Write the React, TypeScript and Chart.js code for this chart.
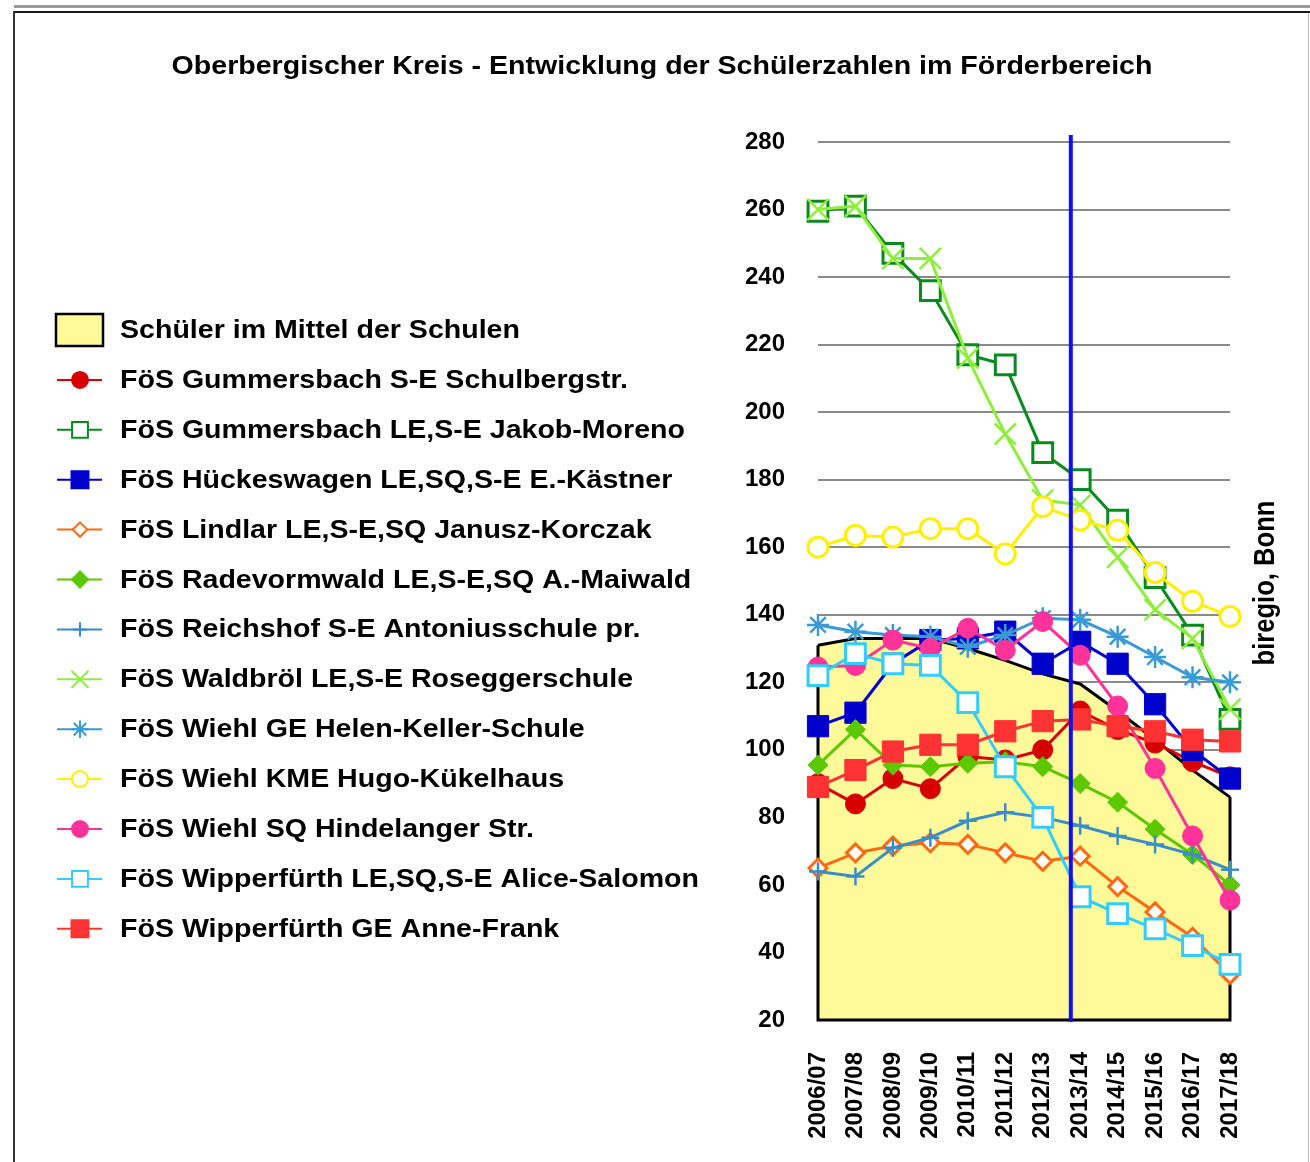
import React, { useEffect, useRef } from 'react';
import { Chart, registerables } from 'chart.js';

Chart.register(...registerables);

const titleText = 'Oberbergischer Kreis - Entwicklung der Schülerzahlen im Förderbereich';
const sourceText = 'biregio, Bonn';

const categories = ['2006/07', '2007/08', '2008/09', '2009/10', '2010/11', '2011/12', '2012/13', '2013/14', '2014/15', '2015/16', '2016/17', '2017/18'];

const yTicks = { min: 20, max: 280, step: 20 };
const markerIndex = 6.75; // blue vertical marker between 2012/13 and 2013/14

const meanSchools = [131, 133, 133, 133, 130, 126.5, 122.5, 119.5, 111.5, 103, 94, 86];
const gummersbachSE = [90, 84, 91.5, 88.5, 98, 97, 100, 111.5, 106, 102, 96.5, 92];
const jakobMoreno = [259.5, 261, 247, 236, 217, 214, 188, 180, 168, 151, 134, 109];
const hueckeswagen = [107, 111, 125.5, 132.5, 133, 135, 125.5, 132, 125.5, 113.5, 100, 91.5];
const lindlar = [65, 69.5, 71.5, 72.5, 72, 69.5, 67, 68.5, 59.5, 52, 44.5, 33.5];
const radevormwald = [95.5, 106, 95.5, 95, 96, 96.5, 95, 90, 84.5, 76.5, 69, 60];
const reichshof = [64, 62.5, 71, 74, 79, 81.5, 80, 77.5, 74.5, 72, 69, 64.5];
const waldbroel = [260, 261, 245.5, 245.5, 216, 193.5, 174, 172.5, 157, 141.5, 133, 112];
const helenKeller = [137, 135, 134, 133.5, 130.5, 134, 139, 138.5, 133.5, 127.5, 121.5, 120];
const hugoKuekelhaus = [160, 163.5, 163, 165.5, 165.5, 158, 172, 168, 165, 152.5, 144, 139.5];
const hindelanger = [124.5, 125, 132.5, 130, 136, 129.5, 138, 128, 113, 94.5, 74.5, 55.5];
const aliceSalomon = [122, 128.5, 125.5, 125, 114, 95, 80, 56.5, 51.5, 47, 42, 36.5];
const anneFrank = [89, 94, 99.5, 101.5, 101.5, 105.5, 108.5, 109, 107, 105.5, 103, 102.5];

const areaLabel = 'Schüler im Mittel der Schulen';

type Series = {
  label: string;
  data: number[];
  color: string;
  style: string;
  radius: number;
  open: boolean;
};

const series: Series[] = [
  { label: 'FöS Gummersbach S-E Schulbergstr.', data: gummersbachSE, color: '#d60000', style: 'circle', radius: 10, open: false },
  { label: 'FöS Gummersbach LE,S-E Jakob-Moreno', data: jakobMoreno, color: '#0a8a1e', style: 'rect', radius: 14, open: true },
  { label: 'FöS Hückeswagen LE,SQ,S-E E.-Kästner', data: hueckeswagen, color: '#0000cc', style: 'rect', radius: 15, open: false },
  { label: 'FöS Lindlar LE,S-E,SQ Janusz-Korczak', data: lindlar, color: '#ff6a10', style: 'rectRot', radius: 9, open: true },
  { label: 'FöS Radevormwald LE,S-E,SQ A.-Maiwald', data: radevormwald, color: '#5cc800', style: 'rectRot', radius: 10, open: false },
  { label: 'FöS Reichshof S-E Antoniusschule pr.', data: reichshof, color: '#3a8ec8', style: 'cross', radius: 9, open: false },
  { label: 'FöS Waldbröl LE,S-E Roseggerschule', data: waldbroel, color: '#8eee3c', style: 'crossRot', radius: 15, open: false },
  { label: 'FöS Wiehl GE Helen-Keller-Schule', data: helenKeller, color: '#3a9ad6', style: 'star', radius: 11, open: false },
  { label: 'FöS Wiehl KME Hugo-Kükelhaus', data: hugoKuekelhaus, color: '#fff000', style: 'circle', radius: 10, open: true },
  { label: 'FöS Wiehl SQ Hindelanger Str.', data: hindelanger, color: '#ff3399', style: 'circle', radius: 10, open: false },
  { label: 'FöS Wipperfürth LE,SQ,S-E Alice-Salomon', data: aliceSalomon, color: '#33ccff', style: 'rect', radius: 14, open: true },
  { label: 'FöS Wipperfürth GE Anne-Frank', data: anneFrank, color: '#ff3333', style: 'rect', radius: 15, open: false },
];

const FONT_FAMILY = '"Liberation Sans", Arial, Helvetica, sans-serif';
const STRETCH = 1.12;

function drawMarker(ctx: CanvasRenderingContext2D, style: string, x: number, y: number, r: number, fill: string, stroke: string, lw: number) {
  ctx.save();
  ctx.lineWidth = lw;
  ctx.fillStyle = fill;
  ctx.strokeStyle = stroke;
  ctx.beginPath();
  if (style === 'circle') {
    ctx.arc(x, y, r, 0, Math.PI * 2);
    ctx.closePath();
    ctx.fill();
    ctx.stroke();
  } else if (style === 'rect') {
    const s = r * Math.SQRT1_2;
    ctx.rect(x - s, y - s, 2 * s, 2 * s);
    ctx.fill();
    ctx.stroke();
  } else if (style === 'rectRot') {
    ctx.moveTo(x, y - r);
    ctx.lineTo(x + r, y);
    ctx.lineTo(x, y + r);
    ctx.lineTo(x - r, y);
    ctx.closePath();
    ctx.fill();
    ctx.stroke();
  } else {
    const d = r * Math.SQRT1_2;
    if (style === 'cross' || style === 'star') {
      ctx.moveTo(x, y - r);
      ctx.lineTo(x, y + r);
      ctx.moveTo(x - r, y);
      ctx.lineTo(x + r, y);
    }
    if (style === 'crossRot' || style === 'star') {
      ctx.moveTo(x - d, y - d);
      ctx.lineTo(x + d, y + d);
      ctx.moveTo(x - d, y + d);
      ctx.lineTo(x + d, y - d);
    }
    ctx.stroke();
  }
  ctx.restore();
}

function stretchedText(ctx: CanvasRenderingContext2D, text: string, x: number, y: number, align: CanvasTextAlign, size: number) {
  ctx.save();
  ctx.font = `bold ${size}px ${FONT_FAMILY}`;
  ctx.fillStyle = '#000';
  ctx.textAlign = align;
  ctx.textBaseline = 'middle';
  ctx.translate(x, y);
  ctx.scale(STRETCH, 1);
  ctx.fillText(text, 0, 0);
  ctx.restore();
}

const decorPlugin = {
  id: 'decor',
  afterDatasetDraw(chart: any, args: any) {
    if (args.index !== 0) return;
    const ctx: CanvasRenderingContext2D = chart.ctx;
    const pts = chart.getDatasetMeta(0).data;
    const bottom = chart.scales.y.getPixelForValue(yTicks.min);
    const first = pts[0];
    const last = pts[pts.length - 1];
    ctx.save();
    ctx.strokeStyle = '#000';
    ctx.lineWidth = 3;
    ctx.lineJoin = 'miter';
    ctx.beginPath();
    ctx.moveTo(first.x, first.y);
    ctx.lineTo(first.x, bottom);
    ctx.lineTo(last.x, bottom);
    ctx.lineTo(last.x, last.y);
    ctx.stroke();
    ctx.restore();
  },
  afterDatasetsDraw(chart: any) {
    const ctx: CanvasRenderingContext2D = chart.ctx;
    const x = chart.scales.x.getPixelForValue(markerIndex);
    const area = chart.chartArea;
    ctx.save();
    ctx.strokeStyle = '#1010ee';
    ctx.lineWidth = 4;
    ctx.beginPath();
    ctx.moveTo(x, area.top - 7);
    ctx.lineTo(x, area.bottom + 2);
    ctx.stroke();
    ctx.restore();
  },
  afterDraw(chart: any) {
    const ctx: CanvasRenderingContext2D = chart.ctx;
    const size = 25.5;
    // title
    stretchedText(ctx, titleText, 662, 67, 'center', size);
    // legend
    const startY = 331;
    const step = 49.9;
    const textX = 120;
    // area item
    ctx.save();
    ctx.fillStyle = '#fffa99';
    ctx.strokeStyle = '#000';
    ctx.lineWidth = 2.5;
    ctx.fillRect(56, startY - 17, 47, 32);
    ctx.strokeRect(56, startY - 17, 47, 32);
    ctx.restore();
    stretchedText(ctx, areaLabel, textX, startY, 'left', size);
    series.forEach((s, i) => {
      const y = startY + step * (i + 1);
      ctx.save();
      ctx.strokeStyle = s.color;
      ctx.lineWidth = 2;
      ctx.beginPath();
      ctx.moveTo(57, y - 1);
      ctx.lineTo(102, y - 1);
      ctx.stroke();
      ctx.restore();
      const r = s.radius * 0.8;
      if (s.style === 'cross' || s.style === 'crossRot' || s.style === 'star') {
        drawMarker(ctx, s.style, 80, y - 1, r, s.color, s.color, 2);
      } else {
        drawMarker(ctx, s.style, 80, y - 1, r, s.open ? '#fff' : s.color, s.color, 2);
      }
      stretchedText(ctx, s.label, textX, y, 'left', size);
    });
    // source label rotated
    ctx.save();
    ctx.font = `bold 25.6px ${FONT_FAMILY}`;
    ctx.fillStyle = '#000';
    ctx.textAlign = 'center';
    ctx.textBaseline = 'middle';
    ctx.translate(1266, 583);
    ctx.rotate(-Math.PI / 2);
    ctx.scale(1, STRETCH);
    ctx.fillText(sourceText, 0, 0);
    ctx.restore();
  },
};

export default function App() {
  const canvasRef = useRef<HTMLCanvasElement | null>(null);

  useEffect(() => {
    const canvas = canvasRef.current;
    if (!canvas) return;
    const datasets: any[] = [
      {
        label: areaLabel,
        data: meanSchools,
        borderColor: '#000',
        borderWidth: 3,
        backgroundColor: '#fffa99',
        fill: 'start',
        pointRadius: 0,
        tension: 0,
        order: 100,
      },
      ...series.map((s, i) => {
        const lineOnly = s.style === 'cross' || s.style === 'crossRot' || s.style === 'star';
        return {
          label: s.label,
          data: s.data,
          borderColor: s.color,
          borderWidth: 3,
          backgroundColor: s.color,
          fill: false,
          tension: 0,
          pointStyle: s.style,
          pointRadius: s.radius,
          pointBackgroundColor: s.open ? '#ffffff' : s.color,
          pointBorderColor: s.color,
          pointBorderWidth: lineOnly ? 2.5 : s.open ? 3 : 1,
          order: 50 - i,
        };
      }),
    ];

    const chart = new Chart(canvas, {
      type: 'line',
      data: { labels: categories, datasets },
      options: {
        responsive: false,
        animation: false,
        devicePixelRatio: 1,
        layout: { padding: { left: 740, top: 142, right: 80, bottom: 0 } },
        plugins: {
          legend: { display: false },
          title: { display: false },
          tooltip: { enabled: false },
        },
        scales: {
          x: {
            type: 'category',
            offset: false,
            grid: { display: false, drawTicks: false },
            border: { display: false },
            ticks: {
              autoSkip: false,
              minRotation: 90,
              maxRotation: 90,
              padding: 32,
              color: '#000',
              font: { family: FONT_FAMILY, size: 24, weight: 'bold' },
            },
            afterFit: (scale: any) => {
              scale.height = 142;
            },
          },
          y: {
            min: yTicks.min,
            max: yTicks.max,
            grid: { color: '#8a8a8a', lineWidth: 2, drawTicks: false },
            border: { display: false },
            ticks: {
              stepSize: yTicks.step,
              padding: 33,
              color: '#000',
              font: { family: FONT_FAMILY, size: 24, weight: 'bold' },
            },
            afterFit: (scale: any) => {
              scale.width = 78;
            },
          },
        },
      },
      plugins: [decorPlugin],
    });
    return () => chart.destroy();
  }, []);

  return (
    <div style={{ position: 'absolute', left: 0, top: 0, width: 1310, height: 1162, background: '#fff', overflow: 'hidden' }}>
      <div style={{ position: 'absolute', left: 14, top: 5, width: 1296, height: 3, background: '#9a9a9a' }} />
      <div style={{ position: 'absolute', left: 14, top: 11, width: 1296, height: 2, background: '#1a1a1a' }} />
      <div style={{ position: 'absolute', left: 13, top: 11, width: 2, height: 1151, background: '#333' }} />
      <div style={{ position: 'absolute', left: 1308, top: 13, width: 1, height: 1149, background: '#bbb' }} />
      <canvas
        ref={canvasRef}
        width={1310}
        height={1162}
        style={{ position: 'absolute', left: 0, top: 0, width: 1310, height: 1162 }}
      />
    </div>
  );
}
